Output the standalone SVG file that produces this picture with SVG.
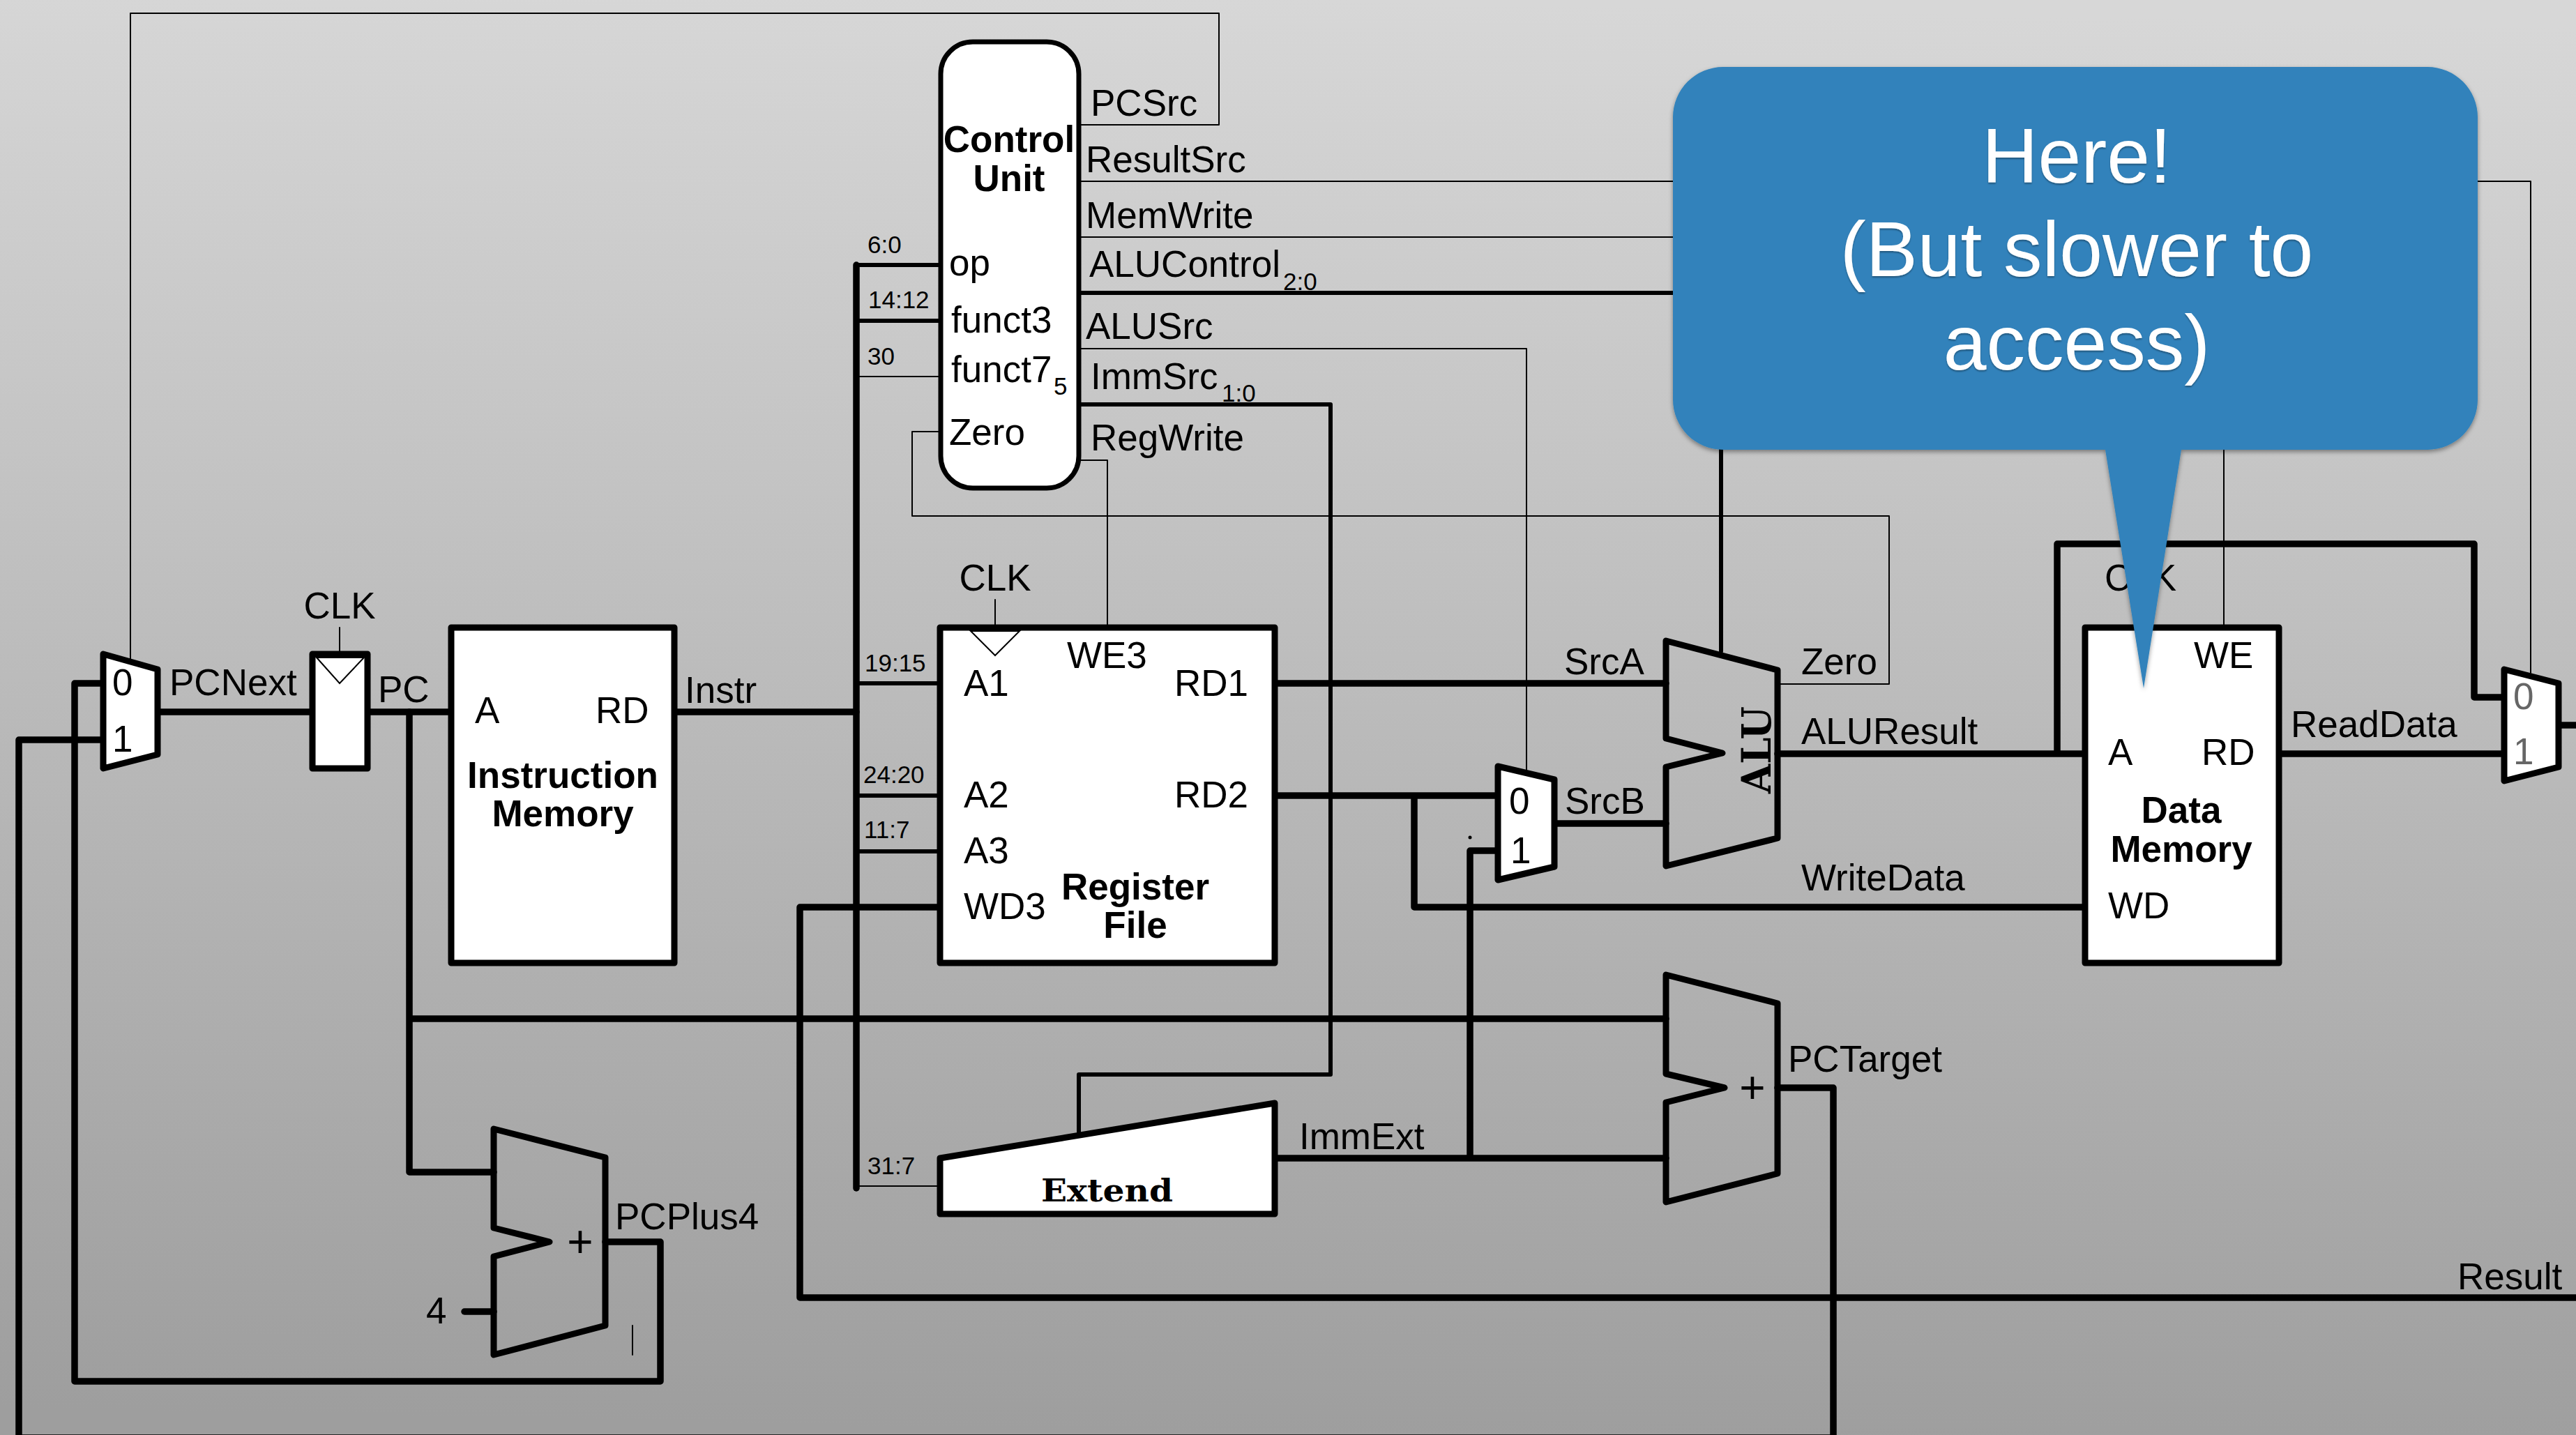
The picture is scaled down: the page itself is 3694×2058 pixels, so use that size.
<svg xmlns="http://www.w3.org/2000/svg" width="3694" height="2058" viewBox="0 0 3694 2058">
<defs>
<linearGradient id="bg" x1="0.52" y1="0" x2="0.48" y2="1"><stop offset="0" stop-color="#d7d7d7"/><stop offset="1" stop-color="#9e9e9e"/></linearGradient>
<filter id="sh" x="-5%" y="-5%" width="110%" height="110%"><feDropShadow dx="0" dy="3" stdDeviation="3" flood-color="#000" flood-opacity="0.4"/></filter>
<filter id="ts" x="-5%" y="-10%" width="110%" height="120%"><feDropShadow dx="0" dy="2" stdDeviation="1" flood-color="#000" flood-opacity="0.35"/></filter>
</defs>
<style>
text{font-family:"Liberation Sans",Arial,sans-serif;font-size:53px;fill:#000}
.b{font-weight:bold;text-anchor:middle}
.m{text-anchor:middle}
.s{font-size:35px}
.w{fill:none;stroke:#000;stroke-linejoin:round;stroke-linecap:round}
.t9{stroke-width:9.5}
.t6{stroke-width:6}
.t2{stroke-width:2}
.box{fill:#fff;stroke:#000;stroke-width:9;stroke-linejoin:round}
.open{fill:none;stroke:#000;stroke-width:9;stroke-linejoin:round}
.tri{fill:none;stroke:#000;stroke-width:2}
.c{font-size:111px;fill:#fff;text-anchor:middle}
.slab{font-family:"DejaVu Serif","Liberation Serif",serif;font-weight:bold}
</style>
<rect width="3694" height="2058" fill="url(#bg)"/>
<g id="connectors">
<path class="w t2" d="M187 948V19H1748V179H1547"/>
<path class="w t2" d="M1547 260H3629V965"/>
<path class="w t2" d="M1547 340H3189V900"/>
<path class="w t6" d="M1547 420H2468V934"/>
<path class="w t2" d="M1547 500H2189V1105"/>
<path class="w t6" d="M1547 580H1908V1541H1547V1623"/>
<path class="w t2" d="M1547 660H1588V900"/>
<path class="w t2" d="M1349 619H1308V740H2709V981H2549"/>
<path class="w t9" d="M1228 380V1704"/>
<path class="w t6" d="M1228 380H1349M1228 460H1349"/>
<path class="w t2" d="M1228 540H1349M1228 1701H1348"/>
<path class="w t6" d="M1228 980H1348M1228 1141H1348M1228 1221H1348"/>
<path class="w t9" d="M226 1021H448M527 1021H647M967 1021H1228"/>
<path class="w t9" d="M587 1021V1681H708M587 1461H2389"/>
<path class="w t9" d="M868 1781H947V1981H107V980H148"/>
<path class="w t9" d="M666 1881H708"/>
<path class="w t9" d="M148 1061H27V2062H2629V1560H2549"/>
<path class="w t9" d="M1348 1301H1147V1861H3700"/>
<path class="w t9" d="M1828 980H2389"/>
<path class="w t9" d="M1828 1141H2148M2028 1141V1301H2990"/>
<path class="w t9" d="M2227 1181H2389"/>
<path class="w t9" d="M1829 1661H2389M2108 1661V1220H2148"/>
<path class="w t9" d="M2549 1081H2990M2950 1081V780H3548V1000H3591"/>
<path class="w t9" d="M3268 1081H3591M3669 1040H3700"/>
<circle cx="2108" cy="1201" r="2.5" fill="#000"/>
<path class="w t2" d="M907 1901V1943"/>
</g>
<g id="labels">
<text x="243" y="997">PCNext</text>
<text x="542" y="1007">PC</text>
<text x="982" y="1008">Instr</text>
<text x="1564" y="166">PCSrc</text>
<text x="1557" y="247">ResultSrc</text>
<text x="1557" y="327">MemWrite</text>
<text x="1562" y="397">ALUControl<tspan class="s" x="1840" y="416">2:0</tspan></text>
<text x="1557" y="486">ALUSrc</text>
<text x="1564" y="558">ImmSrc<tspan class="s" x="1752" y="576">1:0</tspan></text>
<text x="1564" y="646">RegWrite</text>
<text class="s" x="1244" y="363">6:0</text>
<text class="s" x="1245" y="442">14:12</text>
<text class="s" x="1244" y="523">30</text>
<text class="s" x="1240" y="963">19:15</text>
<text class="s" x="1238" y="1123">24:20</text>
<text class="s" x="1239" y="1202">11:7</text>
<text class="s" x="1244" y="1684">31:7</text>
<text x="2243" y="967">SrcA</text>
<text x="2244" y="1167">SrcB</text>
<text x="2583" y="967">Zero</text>
<text x="2583" y="1067">ALUResult</text>
<text x="2583" y="1277">WriteData</text>
<text x="3285" y="1057">ReadData</text>
<text x="1863" y="1648">ImmExt</text>
<text x="2564" y="1537">PCTarget</text>
<text x="882" y="1763">PCPlus4</text>
<text x="611" y="1898">4</text>
<text x="3524" y="1849">Result</text>
<text class="m" x="487" y="887">CLK</text>
<path class="w t2" d="M487 900V938"/>
<text class="m" x="1427" y="847">CLK</text>
<path class="w t2" d="M1427 860V900"/>
<text x="3018" y="847">CLK</text>
</g>
<g id="pc-mux">
<polygon class="box" points="148,938 226,960 226,1082 148,1102"/>
<text x="161" y="997">0</text><text x="161" y="1078">1</text>
</g>
<g id="pc-register">
<rect class="box" x="448" y="938" width="79" height="164"/>
<polygon class="tri" points="454,943 487,980 522,943"/>
</g>
<g id="instruction-memory">
<rect class="box" x="647" y="900" width="320" height="481"/>
<text x="681" y="1037">A</text><text x="854" y="1037">RD</text>
<text class="b" x="807" y="1130">Instruction</text><text class="b" x="807" y="1185">Memory</text>
</g>
<g id="control-unit">
<rect x="1349" y="60" width="198" height="640" rx="46" ry="46" fill="#fff" stroke="#000" stroke-width="7"/>
<text class="b" x="1447" y="218">Control</text><text class="b" x="1447" y="274">Unit</text>
<text x="1361" y="395">op</text>
<text x="1364" y="477">funct3</text>
<text x="1364" y="548">funct7<tspan class="s" x="1511" y="566">5</tspan></text>
<text x="1361" y="638">Zero</text>
</g>
<g id="register-file">
<rect class="box" x="1348" y="900" width="480" height="481"/>
<polygon class="tri" points="1392,905 1427,940 1462,905"/>
<text x="1530" y="958">WE3</text>
<text x="1382" y="998">A1</text><text x="1684" y="998">RD1</text>
<text x="1382" y="1158">A2</text><text x="1684" y="1158">RD2</text>
<text x="1382" y="1238">A3</text><text x="1382" y="1318">WD3</text>
<text class="b" x="1628" y="1290">Register</text><text class="b" x="1628" y="1345">File</text>
</g>
<g id="extend">
<polygon class="box" points="1348,1661 1828,1582 1828,1741 1348,1741"/>
<text class="slab" x="1493" y="1723" style="font-size:44px" textLength="189" lengthAdjust="spacingAndGlyphs">Extend</text>
</g>
<g id="pc-plus-4-adder">
<polygon class="open" points="708,1619 868,1660 868,1901 708,1943 708,1802 788,1781 708,1761"/>
<text class="m" x="832" y="1803" style="font-size:64px">+</text>
</g>
<g id="pc-target-adder">
<polygon class="open" points="2389,1398 2549,1439 2549,1683 2389,1724 2389,1581 2473,1560 2389,1540"/>
<text class="m" x="2513" y="1582" style="font-size:64px">+</text>
</g>
<g id="srcb-mux">
<polygon class="box" points="2148,1099 2229,1118 2229,1243 2148,1262"/>
<text x="2164" y="1167">0</text><text x="2166" y="1238">1</text>
</g>
<g id="alu">
<polygon class="open" points="2389,919 2549,961 2549,1202 2389,1242 2389,1100 2470,1080 2389,1059"/>
<text class="slab" transform="translate(2539 1138) rotate(-90)" style="font-size:58px" textLength="125" lengthAdjust="spacingAndGlyphs">ALU</text>
</g>
<g id="data-memory">
<rect class="box" x="2990" y="900" width="278" height="481"/>
<text x="3146" y="958">WE</text>
<text x="3023" y="1097">A</text><text x="3157" y="1097">RD</text>
<text class="b" x="3128" y="1180">Data</text><text class="b" x="3128" y="1236">Memory</text>
<text x="3023" y="1317">WD</text>
</g>
<g id="result-mux">
<polygon class="box" points="3591,960 3669,980 3669,1100 3591,1120"/>
<text x="3604" y="1017" style="fill:#666">0</text><text x="3604" y="1096" style="fill:#666">1</text>
</g>
<g id="callout">
<path d="M2471 96H3481A72 72 0 0 1 3553 168V573A72 72 0 0 1 3481 645H3128L3074 987L3019 645H2471A72 72 0 0 1 2399 573V168A72 72 0 0 1 2471 96Z" fill="#3082bb" filter="url(#sh)"/>
<text class="c" x="2978" y="262" filter="url(#ts)">Here!</text>
<text class="c" x="2978" y="396" filter="url(#ts)">(But slower to</text>
<text class="c" x="2978" y="530" filter="url(#ts)">access)</text>
</g>
</svg>
